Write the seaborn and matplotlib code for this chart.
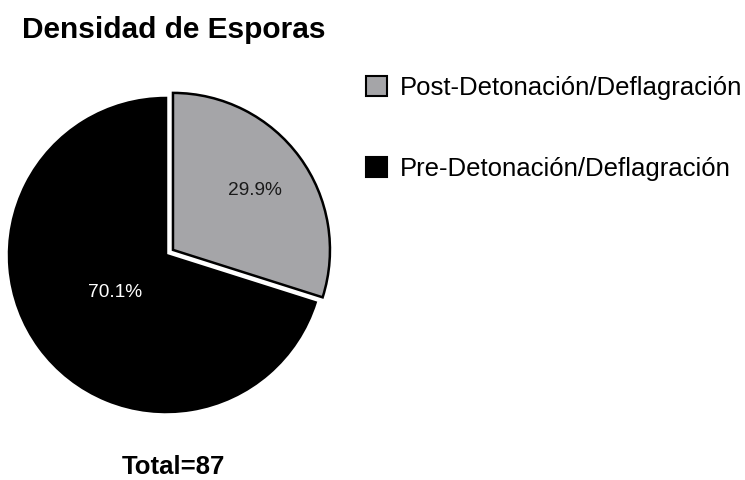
import matplotlib
matplotlib.use("Agg")
import matplotlib.pyplot as plt
import seaborn as sns


# ---- Data ----------------------------------------------------####

labels = ["Post-Detonación/Deflagración", "Pre-Detonación/Deflagración"]
counts = [26, 61]
colors = ["#a5a5a8", "#000000"]
title = "Densidad de Esporas"
total_label = "Total=" + str(sum(counts))


# ---- Style ----------------------------------------------------####

sns.set_theme(style="white")
plt.rcParams["font.family"] = ["Liberation Sans", "DejaVu Sans"]
plt.rcParams["text.color"] = "black"

W, H = 745, 480
fig = plt.figure(figsize=(W / 100, H / 100), dpi=100)

# pie axes placed in pixels: centre (166, 255), radius 157
cx, cy, r, lim = 166, 255, 157, 1.1
ax = fig.add_axes([(cx - lim * r) / W, 1 - (cy + lim * r) / H,
                   2 * lim * r / W, 2 * lim * r / H])

wedges, texts, autotexts = ax.pie(counts,
                                  colors=colors,
                                  explode=[0.055, 0],
                                  startangle=90,
                                  counterclock=False,
                                  autopct="%1.1f%%",
                                  pctdistance=0.645,
                                  wedgeprops=dict(edgecolor="black", linewidth=1.8))
ax.set_xlim(-lim, lim)
ax.set_ylim(-lim, lim)
ax.set_aspect("equal")

autotexts[0].set_color("#1a1a1a")
autotexts[1].set_color("white")
# black slice label sits closer to the centre
x, y = autotexts[1].get_position()
autotexts[1].set_position((x * 0.62, y * 0.62))
for t in autotexts:
    t.set_fontsize(13.8)


# ---- Text ----------------------------------------------------####

fig.text(22 / W, 1 - 30 / H, title, fontsize=21.5, fontweight="bold", ha="left", va="center")
fig.text(173 / W, 1 - 467 / H, total_label, fontsize=18.5, fontweight="bold", ha="center", va="center")

leg = fig.legend(wedges, labels,
                 loc="upper left",
                 bbox_to_anchor=(343 / W, 1 - 53 / H),
                 frameon=False,
                 fontsize=18.5,
                 handlelength=0.82,
                 handleheight=0.82,
                 handletextpad=0.5,
                 labelspacing=2.2)
for h in leg.legend_handles:
    h.set_linewidth(1.5)

fig.savefig("out.png", dpi=100)
